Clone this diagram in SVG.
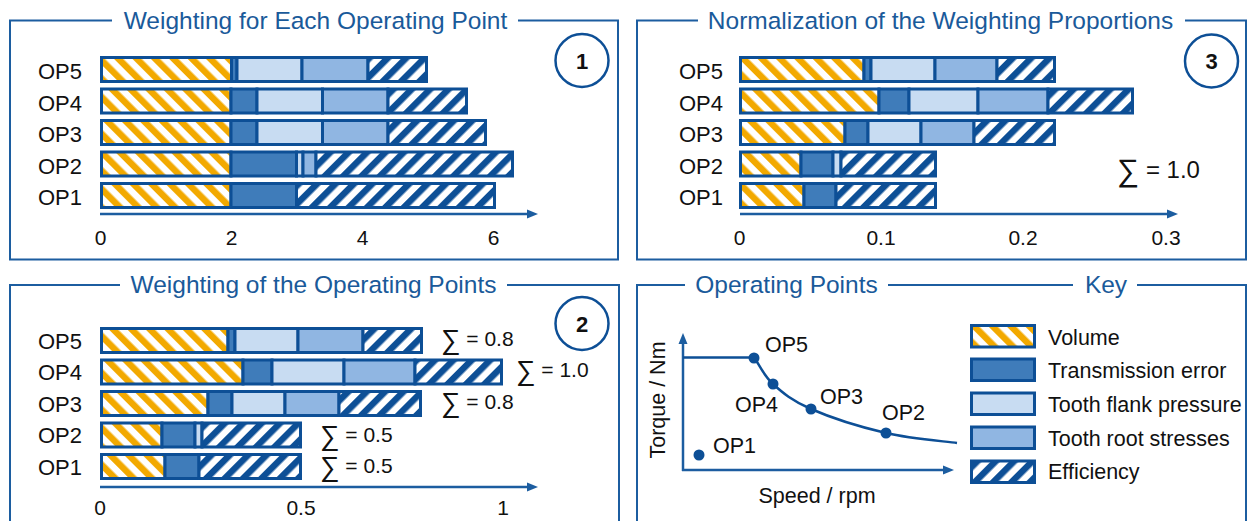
<svg xmlns="http://www.w3.org/2000/svg" width="1249" height="521" viewBox="0 0 1249 521">
  <defs>
    <!-- hatch fills: volume (orange, "\") and efficiency (blue, "/") -->
    <pattern id="hv" patternUnits="userSpaceOnUse" width="13" height="13" patternTransform="rotate(-45)">
      <rect width="13" height="13" fill="#ffffff"/>
      <rect width="6.5" height="13" fill="#f2a900"/>
    </pattern>
    <pattern id="he" patternUnits="userSpaceOnUse" width="13" height="13" patternTransform="rotate(45)">
      <rect width="13" height="13" fill="#ffffff"/>
      <rect width="6.5" height="13" fill="#0d4f96"/>
    </pattern>
    <marker id="arr" markerUnits="userSpaceOnUse" markerWidth="12" markerHeight="10" refX="4" refY="5" orient="auto">
      <path d="M0,0.5 L11,5 L0,9.5 z" fill="#1c5da0"/>
    </marker>
    <style>
      .frame { fill: none; stroke: #1c5da0; stroke-width: 2; }
      .axis { fill: none; stroke: #1c5da0; stroke-width: 2.5; marker-end: url(#arr); }
      .title { font-family: "Liberation Sans", Arial, sans-serif; font-size: 24.5px; fill: #1a5a9a; text-anchor: middle; }
      .lbl { font-family: "Liberation Sans", Arial, sans-serif; font-size: 22px; fill: #111111; }
      .tick { font-family: "Liberation Sans", Arial, sans-serif; font-size: 21px; fill: #111111; text-anchor: middle; }
      .sum { font-family: "Liberation Sans", Arial, sans-serif; font-size: 21px; fill: #111111; }
      .sig { font-family: "DejaVu Sans", "Liberation Sans", sans-serif; font-size: 1.3em; font-weight: 300; }
      .key { font-family: "Liberation Sans", Arial, sans-serif; font-size: 21.5px; fill: #111111; }
      .num { font-family: "Liberation Sans", Arial, sans-serif; font-size: 22px; font-weight: bold; fill: #111111; text-anchor: middle; }
      .badge { fill: #ffffff; stroke: #0d4f96; stroke-width: 2.5; }
      .s { stroke: #0d4f96; stroke-width: 3; }
      .v { fill: url(#hv); }
      .te { fill: #3f7cba; }
      .fl { fill: #c8dcf2; }
      .rt { fill: #90b6e2; }
      .ef { fill: url(#he); }
      .curve { fill: none; stroke: #0d4f96; stroke-width: 2.5; }
      .dot { fill: #0d4f96; }
    </style>
  </defs>

  <rect width="1249" height="521" fill="#ffffff"/>

  <!-- Panel 1: weighting for each operating point -->
  <g id="panel1">
    <path class="frame" d="M112,20.5 H10 V259.5 H618 V20.5 H518"/>
    <text class="title" x="315.5" y="29">Weighting for Each Operating Point</text>
    <circle class="badge" cx="582" cy="60.5" r="26.5"/>
    <text class="num" x="582" y="68.5">1</text>
    <g class="lbl">
      <text x="38" y="79">OP5</text>
      <text x="38" y="110.5">OP4</text>
      <text x="38" y="142">OP3</text>
      <text x="38" y="173.5">OP2</text>
      <text x="38" y="205">OP1</text>
    </g>
    <g id="p1-op5">
      <rect class="s v" x="101.5" y="57.5" width="130" height="24"/>
      <rect class="s te" x="231.5" y="57.5" width="5.5" height="24"/>
      <rect class="s fl" x="237" y="57.5" width="65" height="24"/>
      <rect class="s rt" x="302" y="57.5" width="66" height="24"/>
      <rect class="s ef" x="368" y="57.5" width="58.5" height="24"/>
    </g>
    <g id="p1-op4">
      <rect class="s v" x="101.5" y="89" width="129.5" height="24"/>
      <rect class="s te" x="231" y="89" width="26" height="24"/>
      <rect class="s fl" x="257" y="89" width="65.5" height="24"/>
      <rect class="s rt" x="322.5" y="89" width="65.5" height="24"/>
      <rect class="s ef" x="388" y="89" width="78.5" height="24"/>
    </g>
    <g id="p1-op3">
      <rect class="s v" x="101.5" y="120.5" width="129.5" height="24"/>
      <rect class="s te" x="231" y="120.5" width="26" height="24"/>
      <rect class="s fl" x="257" y="120.5" width="65.5" height="24"/>
      <rect class="s rt" x="322.5" y="120.5" width="65.5" height="24"/>
      <rect class="s ef" x="388" y="120.5" width="97.5" height="24"/>
    </g>
    <g id="p1-op2">
      <rect class="s v" x="101.5" y="152" width="129.5" height="24"/>
      <rect class="s te" x="231" y="152" width="65.5" height="24"/>
      <rect class="s fl" x="296.5" y="152" width="6.5" height="24"/>
      <rect class="s rt" x="303" y="152" width="13" height="24"/>
      <rect class="s ef" x="316" y="152" width="196.5" height="24"/>
    </g>
    <g id="p1-op1">
      <rect class="s v" x="101.5" y="183.5" width="129.5" height="24"/>
      <rect class="s te" x="231" y="183.5" width="65.5" height="24"/>
      <rect class="s ef" x="296.5" y="183.5" width="198" height="24"/>
    </g>
    <line class="axis" x1="100" y1="214" x2="531" y2="214"/>
    <g class="tick">
      <text x="100.5" y="245">0</text>
      <text x="231.5" y="245">2</text>
      <text x="362.5" y="245">4</text>
      <text x="493.5" y="245">6</text>
    </g>
  </g>

  <!-- Panel 3: normalization of the weighting proportions -->
  <g id="panel3">
    <path class="frame" d="M698,20.5 H637 V259.5 H1246 V20.5 H1185"/>
    <text class="title" x="940.5" y="29">Normalization of the Weighting Proportions</text>
    <circle class="badge" cx="1211.5" cy="61" r="26.5"/>
    <text class="num" x="1211.5" y="69">3</text>
    <g class="lbl">
      <text x="679" y="79">OP5</text>
      <text x="679" y="110.5">OP4</text>
      <text x="679" y="142">OP3</text>
      <text x="679" y="173.5">OP2</text>
      <text x="679" y="205">OP1</text>
    </g>
    <g id="p3-op5">
      <rect class="s v" x="740.5" y="57.5" width="123.5" height="24"/>
      <rect class="s te" x="864" y="57.5" width="7" height="24"/>
      <rect class="s fl" x="871" y="57.5" width="64" height="24"/>
      <rect class="s rt" x="935" y="57.5" width="62" height="24"/>
      <rect class="s ef" x="997" y="57.5" width="57.5" height="24"/>
    </g>
    <g id="p3-op4">
      <rect class="s v" x="740.5" y="89" width="138.5" height="24"/>
      <rect class="s te" x="879" y="89" width="30" height="24"/>
      <rect class="s fl" x="909" y="89" width="69" height="24"/>
      <rect class="s rt" x="978" y="89" width="70" height="24"/>
      <rect class="s ef" x="1048" y="89" width="84.5" height="24"/>
    </g>
    <g id="p3-op3">
      <rect class="s v" x="740.5" y="120.5" width="104.5" height="24"/>
      <rect class="s te" x="845" y="120.5" width="23" height="24"/>
      <rect class="s fl" x="868" y="120.5" width="53" height="24"/>
      <rect class="s rt" x="921" y="120.5" width="53" height="24"/>
      <rect class="s ef" x="974" y="120.5" width="80.5" height="24"/>
    </g>
    <g id="p3-op2">
      <rect class="s v" x="740.5" y="152" width="60.5" height="24"/>
      <rect class="s te" x="801" y="152" width="32" height="24"/>
      <rect class="s fl" x="833" y="152" width="8" height="24"/>
      <rect class="s ef" x="841" y="152" width="94.5" height="24"/>
    </g>
    <g id="p3-op1">
      <rect class="s v" x="740.5" y="183.5" width="63.5" height="24"/>
      <rect class="s te" x="804" y="183.5" width="32" height="24"/>
      <rect class="s ef" x="836" y="183.5" width="99.5" height="24"/>
    </g>
    <text class="sum" x="1117" y="178" style="font-size:24px"><tspan class="sig" dy="3">∑</tspan><tspan dy="-3"> = 1.0</tspan></text>
    <line class="axis" x1="740" y1="214" x2="1171" y2="214"/>
    <g class="tick">
      <text x="739.5" y="245">0</text>
      <text x="881" y="245">0.1</text>
      <text x="1023" y="245">0.2</text>
      <text x="1166" y="245">0.3</text>
    </g>
  </g>

  <!-- Panel 2: weighting of the operating points -->
  <g id="panel2">
    <path class="frame" d="M120,285 H10 V530 M507,285 H619 V530"/>
    <text class="title" x="313.5" y="293">Weighting of the Operating Points</text>
    <circle class="badge" cx="582" cy="323.5" r="26.5"/>
    <text class="num" x="582" y="331.5">2</text>
    <g class="lbl">
      <text x="38" y="348.5">OP5</text>
      <text x="38" y="380">OP4</text>
      <text x="38" y="411.5">OP3</text>
      <text x="38" y="443">OP2</text>
      <text x="38" y="474.5">OP1</text>
    </g>
    <g id="p2-op5">
      <rect class="s v" x="101.5" y="328.5" width="126.5" height="24"/>
      <rect class="s te" x="228" y="328.5" width="7" height="24"/>
      <rect class="s fl" x="235" y="328.5" width="63" height="24"/>
      <rect class="s rt" x="298" y="328.5" width="65" height="24"/>
      <rect class="s ef" x="363" y="328.5" width="58.5" height="24"/>
    </g>
    <g id="p2-op4">
      <rect class="s v" x="101.5" y="360" width="141.5" height="24"/>
      <rect class="s te" x="243" y="360" width="29" height="24"/>
      <rect class="s fl" x="272" y="360" width="72" height="24"/>
      <rect class="s rt" x="344" y="360" width="71" height="24"/>
      <rect class="s ef" x="415" y="360" width="86.5" height="24"/>
    </g>
    <g id="p2-op3">
      <rect class="s v" x="101.5" y="391.5" width="106.5" height="24"/>
      <rect class="s te" x="208" y="391.5" width="24" height="24"/>
      <rect class="s fl" x="232" y="391.5" width="53" height="24"/>
      <rect class="s rt" x="285" y="391.5" width="54" height="24"/>
      <rect class="s ef" x="339" y="391.5" width="81.5" height="24"/>
    </g>
    <g id="p2-op2">
      <rect class="s v" x="101.5" y="423" width="60.5" height="24"/>
      <rect class="s te" x="162" y="423" width="33" height="24"/>
      <rect class="s fl" x="195" y="423" width="7" height="24"/>
      <rect class="s ef" x="202" y="423" width="98.5" height="24"/>
    </g>
    <g id="p2-op1">
      <rect class="s v" x="101.5" y="454.5" width="63.5" height="24"/>
      <rect class="s te" x="165" y="454.5" width="34" height="24"/>
      <rect class="s ef" x="199" y="454.5" width="101.5" height="24"/>
    </g>
    <g class="sum">
      <text x="441" y="346"><tspan class="sig" dy="3">∑</tspan><tspan dy="-3"> = 0.8</tspan></text>
      <text x="516" y="377"><tspan class="sig" dy="3">∑</tspan><tspan dy="-3"> = 1.0</tspan></text>
      <text x="441" y="409"><tspan class="sig" dy="3">∑</tspan><tspan dy="-3"> = 0.8</tspan></text>
      <text x="320" y="442"><tspan class="sig" dy="3">∑</tspan><tspan dy="-3"> = 0.5</tspan></text>
      <text x="320" y="473"><tspan class="sig" dy="3">∑</tspan><tspan dy="-3"> = 0.5</tspan></text>
    </g>
    <line class="axis" x1="100" y1="487" x2="531" y2="487"/>
    <g class="tick">
      <text x="100" y="515">0</text>
      <text x="301" y="515">0.5</text>
      <text x="503" y="515">1</text>
    </g>
  </g>

  <!-- Panel 4: operating points map and key -->
  <g id="panel4">
    <path class="frame" d="M685,285 H637 V530 M888,285 H1073 M1137,285 H1246 V530"/>
    <text class="title" x="786.5" y="293">Operating Points</text>
    <text class="title" x="1106" y="293">Key</text>
  </g>

  <g id="op-map">
    <line class="axis" x1="683" y1="471" x2="683" y2="340"/>
    <line class="axis" x1="682" y1="470" x2="947" y2="470"/>
    <path class="curve" d="M683,357.5 H754 C760.3,366 763.5,375.3 773,384 C782.5,392.7 792.2,400.8 811,409 C829.8,417.2 861.7,427.3 886,433 C910.3,438.7 945.2,441.3 957,443"/>
    <circle id="op5" class="dot" cx="754" cy="358" r="5.5"/>
    <circle id="op4" class="dot" cx="773" cy="384" r="5.5"/>
    <circle id="op3" class="dot" cx="811" cy="409" r="5.5"/>
    <circle id="op2" class="dot" cx="886" cy="433" r="5.5"/>
    <circle id="op1" class="dot" cx="699" cy="455" r="5.5"/>
    <g class="key">
      <text x="765" y="352">OP5</text>
      <text x="735" y="412">OP4</text>
      <text x="820" y="404">OP3</text>
      <text x="882" y="420">OP2</text>
      <text x="713" y="453">OP1</text>
      <text x="0" y="0" text-anchor="middle" transform="translate(665,400) rotate(-90)">Torque / Nm</text>
      <text x="817" y="503" text-anchor="middle">Speed / rpm</text>
    </g>
  </g>

  <g id="legend">
    <rect class="s v" x="971.5" y="325.5" width="63" height="21.5"/>
    <rect class="s te" x="971.5" y="359" width="63" height="21.5"/>
    <rect class="s fl" x="971.5" y="393" width="63" height="21.5"/>
    <rect class="s rt" x="971.5" y="427" width="63" height="21.5"/>
    <rect class="s ef" x="971.5" y="461" width="63" height="21.5"/>
    <g class="key">
      <text x="1048" y="345">Volume</text>
      <text x="1048" y="378">Transmission error</text>
      <text x="1048" y="412">Tooth flank pressure</text>
      <text x="1048" y="446">Tooth root stresses</text>
      <text x="1048" y="479">Efficiency</text>
    </g>
  </g>
</svg>
